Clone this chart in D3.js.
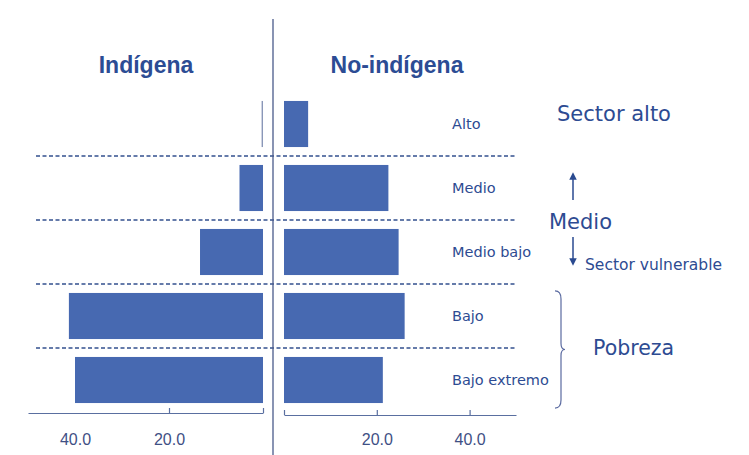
<!DOCTYPE html>
<html>
<head>
<meta charset="utf-8">
<script src="https://cdn.jsdelivr.net/npm/d3@7"></script>
<style>
  body { margin: 0; background: #fff; }
  svg { display: block; }
</style>
</head>
<body>
<div id="chart"></div>
<script>
// estratos en el orden en que aparecen de arriba a abajo
var estratos = ["Alto", "Medio", "Medio bajo", "Bajo", "Bajo extremo"];
var indigena = [0.3, 5, 13.4, 41.3, 40];
var noIndigena = [5.2, 22.5, 24.7, 26, 21.3];
var tickValores = [0, 20, 40];

var w = 749;
var h = 455;
var azul = "#4769b1";
var texto = "#2d4b92";

var svg = d3.select("#chart")
            .append("svg")
            .attr("width", w)
            .attr("height", h);

var y = d3.scaleBand()
          .domain(estratos)
          .range([92, 412])
          .paddingInner(0.28)
          .paddingOuter(0.14);

var xIzq = d3.scaleLinear().domain([0, 50]).range([263, 28]);
var xDer = d3.scaleLinear().domain([0, 50]).range([284, 516]);

// lineas punteadas entre estratos
svg.selectAll(".sep")
   .data(estratos.slice(1))
   .enter()
   .append("line")
   .attr("class", "sep")
   .attr("x1", 36)
   .attr("x2", 517)
   .attr("y1", function(d) { return y(d) - y.step() * y.paddingInner() / 2; })
   .attr("y2", function(d) { return y(d) - y.step() * y.paddingInner() / 2; })
   .attr("stroke", "#33508f")
   .attr("stroke-width", 1.3)
   .attr("stroke-dasharray", "4,2.5");

// barras indigena (hacia la izquierda)
svg.selectAll(".izq")
   .data(indigena)
   .enter()
   .append("rect")
   .attr("class", "izq")
   .attr("x", function(d) { return xIzq(d); })
   .attr("y", function(d, i) { return y(estratos[i]); })
   .attr("width", function(d) { return xIzq(0) - xIzq(d); })
   .attr("height", y.bandwidth())
   .attr("fill", function(d) { return d < 1 ? "#8a97b8" : azul; });

// barras no indigena (hacia la derecha)
svg.selectAll(".der")
   .data(noIndigena)
   .enter()
   .append("rect")
   .attr("class", "der")
   .attr("x", xDer(0))
   .attr("y", function(d, i) { return y(estratos[i]); })
   .attr("width", function(d) { return xDer(d) - xDer(0); })
   .attr("height", y.bandwidth())
   .attr("fill", azul);

// linea central
svg.append("line")
   .attr("x1", 273).attr("x2", 273)
   .attr("y1", 19).attr("y2", h)
   .attr("stroke", "#4a5a8a")
   .attr("stroke-width", 1.3);

// ejes
var fmt = function(d) { return d === 0 ? "" : d3.format(".1f")(d); };

var ejeIzq = svg.append("g")
   .attr("transform", "translate(0,413)")
   .call(d3.axisBottom(xIzq).tickValues(tickValores).tickFormat(fmt)
           .tickSizeInner(-5).tickSizeOuter(0).tickPadding(21));
ejeIzq.selectAll(".tick line").filter(function(d) { return d === 40; }).remove();

var ejeDer = svg.append("g")
   .attr("transform", "translate(0,415)")
   .call(d3.axisBottom(xDer).tickValues(tickValores).tickFormat(fmt)
           .tickSizeInner(-5).tickSizeOuter(0).tickPadding(19));

svg.selectAll(".domain, .tick line")
   .attr("stroke", "#5a6fa0")
   .attr("stroke-width", 1.2);
svg.selectAll(".tick text")
   .attr("font-family", "Liberation Sans, Arial, sans-serif")
   .attr("font-size", 16)
   .attr("fill", "#3f5085");

// titulos de columnas
svg.append("text")
   .attr("x", 146).attr("y", 73)
   .attr("text-anchor", "middle")
   .attr("font-family", "Liberation Sans, Arial, sans-serif")
   .attr("font-weight", "bold")
   .attr("font-size", 23)
   .attr("fill", "#2c4c94")
   .text("Indígena");

svg.append("text")
   .attr("x", 397).attr("y", 73)
   .attr("text-anchor", "middle")
   .attr("font-family", "Liberation Sans, Arial, sans-serif")
   .attr("font-weight", "bold")
   .attr("font-size", 23)
   .attr("fill", "#2c4c94")
   .text("No-indígena");

// nombres de estratos
svg.selectAll(".cat")
   .data(estratos)
   .enter()
   .append("text")
   .attr("class", "cat")
   .attr("x", 452)
   .attr("y", function(d) { return y(d) + y.bandwidth() / 2 + 5; })
   .attr("font-family", "DejaVu Sans, Verdana, sans-serif")
   .attr("font-size", 14.5)
   .attr("fill", texto)
   .text(function(d) { return d; });

// anotaciones de la derecha
function nota(txt, x, yy, size) {
  svg.append("text")
     .attr("x", x).attr("y", yy)
     .attr("font-family", "DejaVu Sans, Verdana, sans-serif")
     .attr("font-size", size)
     .attr("fill", texto)
     .text(txt);
}
nota("Sector alto", 557, 121, 21);
nota("Medio", 549, 229, 21);
nota("Sector vulnerable", 585, 270, 15.5);
nota("Pobreza", 593, 355, 20.5);

// flechas
var defs = svg.append("defs");
defs.append("marker")
    .attr("id", "punta")
    .attr("viewBox", "0 0 10 10")
    .attr("refX", 5).attr("refY", 5)
    .attr("markerWidth", 5).attr("markerHeight", 5)
    .attr("orient", "auto")
    .append("path")
    .attr("d", "M0,0L10,5L0,10Z")
    .attr("fill", "#2a4a90");

svg.append("line")
   .attr("x1", 573).attr("y1", 200).attr("x2", 573).attr("y2", 176)
   .attr("stroke", "#2a4a90").attr("stroke-width", 1.5)
   .attr("marker-end", "url(#punta)");
svg.append("line")
   .attr("x1", 573).attr("y1", 237).attr("x2", 573).attr("y2", 262)
   .attr("stroke", "#2a4a90").attr("stroke-width", 1.5)
   .attr("marker-end", "url(#punta)");

// llave de pobreza
var y0 = y("Bajo") - 2, y1 = y("Bajo extremo") + y.bandwidth() + 5;
var ym = (y0 + y1) / 2;
svg.append("path")
   .attr("d", "M555," + y0 + " Q561," + y0 + " 561," + (y0 + 8) +
              " L561," + (ym - 6) + " Q561," + ym + " 565," + ym +
              " Q561," + ym + " 561," + (ym + 6) +
              " L561," + (y1 - 8) + " Q561," + y1 + " 555," + y1)
   .attr("fill", "none")
   .attr("stroke", "#5a6aa0")
   .attr("stroke-width", 1.2);
</script>
</body>
</html>
